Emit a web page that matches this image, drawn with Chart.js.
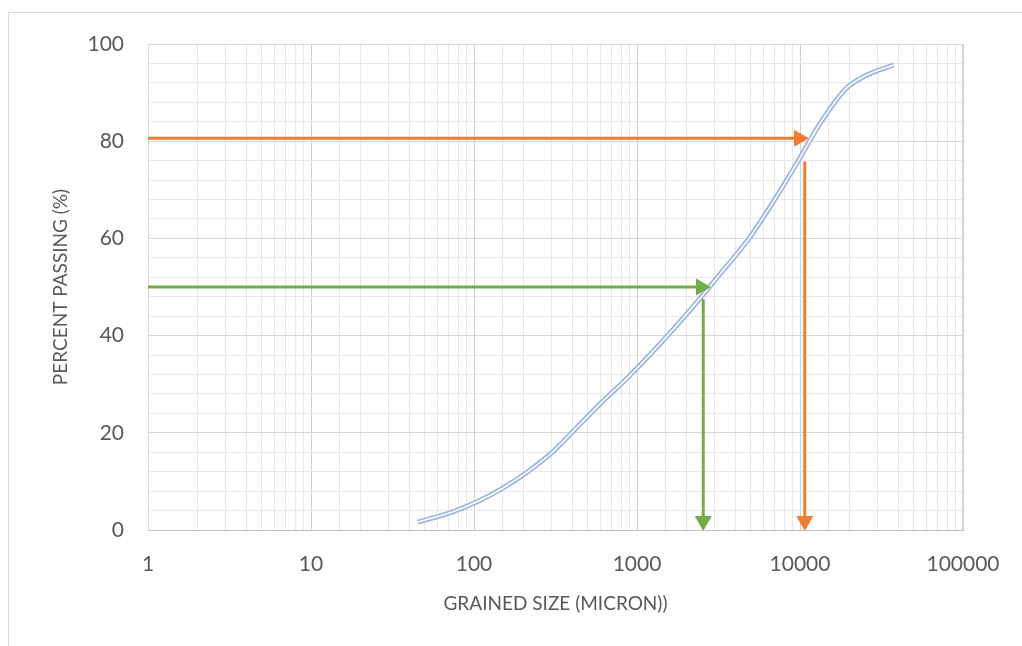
<!DOCTYPE html>
<html>
<head>
<meta charset="utf-8">
<script src="https://cdn.jsdelivr.net/npm/chart.js@4/dist/chart.umd.min.js"></script>
<style>
  html, body { margin:0; padding:0; background:#fff; overflow:hidden; }
  #frame { position:absolute; left:8px; top:12px; width:1100px; height:700px; border:1px solid #d9d9d9; }
  #chart { position:absolute; left:0; top:0; }
</style>
</head>
<body>
<div id="frame"></div>
<canvas id="chart" width="1022" height="646"></canvas>
<script>
// grain size distribution (sieve sizes in micron, cumulative % passing)
const sizes   = [45, 75, 106, 150, 212, 300, 425, 600, 850, 1180, 1700, 2360, 3350, 4750, 6700, 9500, 13200, 19000, 25000, 37500];
const passing = [1.6, 3.8, 5.9, 8.6, 11.9, 15.9, 21.0, 26.1, 30.9, 35.8, 41.6, 47.1, 53.3, 59.5, 67.0, 75.3, 83.5, 90.7, 93.4, 95.7];

// reading lines: d80 (orange) and d50 (green)
const d80Level = 80.6, d80Size = 10700, d80HeadX = 9860, d80Top = 75.8;
const d50Level = 50,   d50Size = 2550,  d50HeadX = 2470, d50Top = 47.5;
const headY = 1.85;

// axes
const xMin = 1, xMax = 100000;
const yMin = 0, yMax = 100, yStep = 4, yMajor = 20;

const ORANGE = "#ed7d31";
const GREEN = "#70ad47";
const BLUE = "#9db5e1";
const TEXT = "#595959";

const curve = sizes.map((s, i) => ({ x: s, y: passing[i] }));

function arrow(points, color, rot) {
  return {
    data: points,
    showLine: true,
    borderColor: color,
    backgroundColor: color,
    borderWidth: 3,
    pointRadius: [0, 9],
    pointStyle: "triangle",
    rotation: rot,
    pointBorderWidth: 1,
    pointBorderColor: color,
    pointBackgroundColor: color,
    order: -1
  };
}

function isDecade(v) {
  return /^10*$/.test(String(v));
}

new Chart(document.getElementById("chart"), {
  type: "scatter",
  data: {
    datasets: [
      { data: curve, showLine: true, borderColor: "#ffffff", borderWidth: 1.6, pointRadius: 0, cubicInterpolationMode: "monotone", order: 0 },
      { data: curve, showLine: true, borderColor: BLUE, borderWidth: 5, pointRadius: 0, cubicInterpolationMode: "monotone", order: 1 },
      arrow([{ x: xMin, y: d80Level }, { x: d80HeadX, y: d80Level }], ORANGE, 90),
      arrow([{ x: d80Size, y: d80Top }, { x: d80Size, y: headY }], ORANGE, 180),
      arrow([{ x: xMin, y: d50Level }, { x: d50HeadX, y: d50Level }], GREEN, 90),
      arrow([{ x: d50Size, y: d50Top }, { x: d50Size, y: headY }], GREEN, 180)
    ]
  },
  options: {
    responsive: false,
    animation: false,
    devicePixelRatio: 1,
    layout: { padding: { left: 0, top: 44, right: 59, bottom: 0 } },
    plugins: { legend: { display: false }, tooltip: { enabled: false } },
    scales: {
      x: {
        type: "logarithmic",
        min: xMin,
        max: xMax,
        afterFit: s => { s.height = 116; },
        border: { color: "#bfbfbf", width: 1 },
        grid: {
          drawTicks: false,
          color: c => (c.tick && isDecade(c.tick.value)) ? "#cfcfcf" : "#e6e6e6",
          lineWidth: 1
        },
        ticks: {
          autoSkip: false,
          maxRotation: 0,
          padding: 22,
          color: TEXT,
          font: { family: "Lato", size: 21 },
          callback: v => isDecade(v) ? String(v) : ""
        },
        title: {
          display: true,
          text: "GRAINED SIZE (MICRON))",
          color: TEXT,
          font: { family: "Lato", size: 19 },
          padding: { top: 0, bottom: 31 }
        }
      },
      y: {
        min: yMin,
        max: yMax,
        afterFit: s => { s.width = 148; },
        border: { color: "#d9d9d9", width: 1 },
        grid: {
          drawTicks: false,
          color: c => (c.tick && c.tick.value % yMajor === 0) ? "#d6d6d6" : "#e8e8e8",
          lineWidth: 1
        },
        ticks: {
          stepSize: yStep,
          autoSkip: false,
          padding: 24,
          color: TEXT,
          font: { family: "Lato", size: 21 },
          callback: v => v % yMajor === 0 ? String(v) : ""
        },
        title: {
          display: true,
          text: "PERCENT PASSING (%)",
          color: TEXT,
          font: { family: "Lato", size: 19 },
          padding: { top: 49, bottom: 0 }
        }
      }
    }
  },
  plugins: [{
    id: "plotBorder",
    afterDraw(chart) {
      const a = chart.chartArea, ctx = chart.ctx;
      ctx.save();
      ctx.strokeStyle = "#d9d9d9";
      ctx.lineWidth = 1;
      ctx.beginPath();
      ctx.moveTo(a.left, a.top + 0.5);
      ctx.lineTo(a.right, a.top + 0.5);
      ctx.moveTo(a.right - 0.5, a.top);
      ctx.lineTo(a.right - 0.5, a.bottom);
      ctx.stroke();
      ctx.restore();
    }
  }]
});
</script>
</body>
</html>
